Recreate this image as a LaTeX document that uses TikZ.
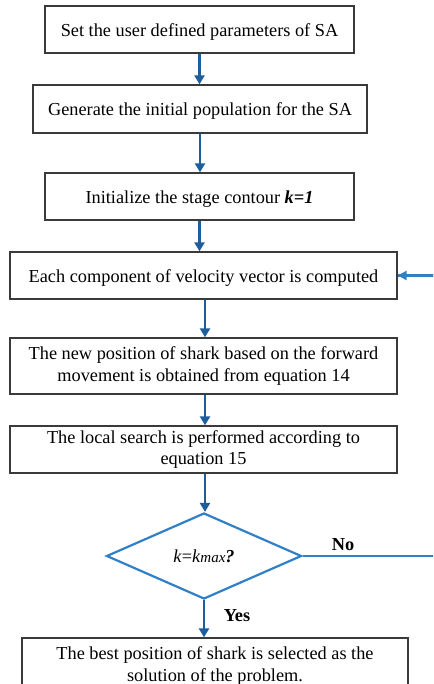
\documentclass[tikz,border=0pt]{standalone}
\usepackage{tikz}
\usetikzlibrary{positioning, shapes.geometric, arrows.meta, calc}
\usepackage{fontspec}
\setmainfont{Liberation Serif}
\usepackage{xcolor}
\definecolor{saframe}{HTML}{3A3A3A}
\definecolor{saarrow}{HTML}{1D5E9C}
\definecolor{saloop}{HTML}{2F80C6}

\begin{document}
\begin{tikzpicture}[x=1pt, y=-1pt,
    every node/.style={font=\fontsize{18.3}{21.5}\selectfont, text=black},
    stepbox/.style={draw=saframe, line width=1.3pt, rectangle, align=center, inner sep=0pt,
      execute at begin node={\rule{0pt}{17pt}}},
    flow/.style={-{Triangle[width=10pt,length=9pt]}, line width=2.6pt, saarrow},
    loopline/.style={line width=2.2pt, saloop}]
        \clip (0,0) rectangle (433,684);
        \node[stepbox, minimum width=309pt, minimum height=47pt] (set) at (199.5,29.5) {Set the user defined parameters of SA};
        \node[stepbox, minimum width=334pt, minimum height=48pt] (gen) at (200,109) {Generate the initial population for the SA};
        \node[stepbox, minimum width=309pt, minimum height=47pt] (init) at (199.5,196.5) {Initialize the stage contour \textbf{\textit{k=1}}};
        \node[stepbox, minimum width=387pt, minimum height=47pt] (vel) at (203.5,275.5) {Each component of velocity vector is computed};
        \node[stepbox, minimum width=387pt, minimum height=56pt] (move) at (203.5,366) {The new position of shark based on the forward\\movement is obtained from equation 14};
        \node[stepbox, minimum width=387pt, minimum height=47pt] (local) at (203.5,449.5) {The local search is performed according to\\equation 15};
        \node[draw=saloop, line width=2.2pt, diamond, minimum width=195pt, minimum height=86pt, inner sep=0pt] (check) at (204,556) {\textit{k}=\textit{k}{\fontsize{15}{17}\selectfont\textit{max}}\textbf{\textit{?}}};
        \node[stepbox, minimum width=386pt, minimum height=56pt] (best) at (215,666) {The best position of shark is selected as the\\solution of the problem.};
        \draw[flow] (set.south) -- (set.south |- gen.north);
        \draw[flow] (gen.south) -- (gen.south |- init.north);
        \draw[flow] (init.south) -- (init.south |- vel.north);
        \draw[flow] ([xshift=1.5pt]vel.south) -- ([xshift=1.5pt]vel.south |- move.north);
        \draw[flow] ([xshift=1.5pt]move.south) -- ([xshift=1.5pt]move.south |- local.north);
        \draw[flow] ([xshift=1.5pt]local.south) -- ([xshift=1.5pt]local.south |- check.north);
        \draw[flow] (check.south) -- (check.south |- best.north);
        \coordinate (back) at (445,556);
        \draw[loopline] (check.east) -- (back) |- (vel.east);
        \draw[loopline, -{Triangle[width=9pt,length=9pt]}] (back |- vel.east) -- (vel.east);
        \node[font=\fontsize{18.3}{20}\selectfont\bfseries] (no) at (343,545) {No};
        \node[font=\fontsize{18.3}{20}\selectfont\bfseries] (yes) at (237,616) {Yes};
      \end{tikzpicture}
\end{document}
